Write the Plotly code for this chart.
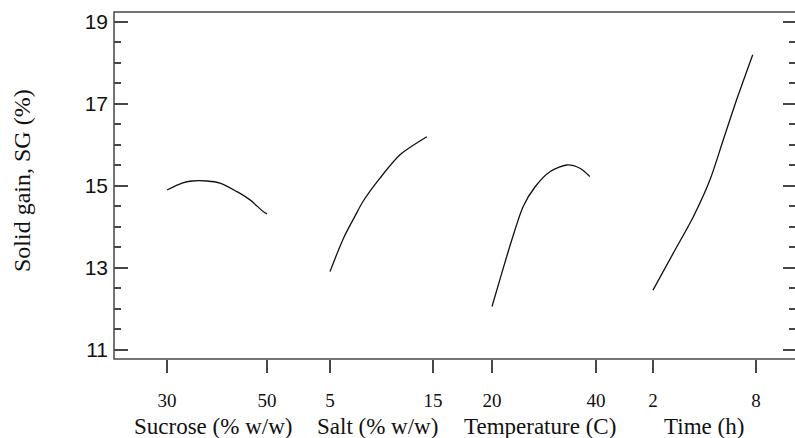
import plotly.graph_objects as go

# ---- data ----
sucrose_x = [30, 33, 35, 38, 40.6, 44, 46.6, 49.3, 50]
sucrose_y = [14.90, 15.07, 15.12, 15.12, 15.07, 14.86, 14.66, 14.37, 14.32]

salt_x = [5, 6.3, 7.4, 8.2, 9.85, 11.8, 14.4]
salt_y = [12.91, 13.72, 14.25, 14.62, 15.19, 15.76, 16.20]

temp_x = [20, 21.5, 23.8, 26.0, 28.3, 31.2, 34.4, 36.9, 38.8]
temp_y = [12.06, 12.71, 13.68, 14.50, 14.98, 15.35, 15.51, 15.43, 15.23]

time_x = [2, 3.18, 4.35, 5.32, 6.09, 6.87, 7.81]
time_y = [12.46, 13.36, 14.25, 15.15, 16.12, 17.10, 18.20]

sucrose_ticks = [30, 50]
salt_ticks = [5, 15]
temp_ticks = [20, 40]
time_ticks = [2, 8]
y_ticks = [11, 13, 15, 17, 19]

titles = ["Sucrose (% w/w)", "Salt (% w/w)", "Temperature (C)", "Time (h)"]
y_title = "Solid gain, SG (%)"

# ---- layout geometry (pixels) ----
W, H = 795, 438
PL, PR, PT, PB = 114, 795, 12, 359
pw = PR - PL
anchors = [((30, 167), (50, 267)), ((5, 330), (15, 433)),
           ((20, 492), (40, 596)), ((2, 653), (8, 756))]
splits = [114, 298, 462, 625, 795]
title_centers = [213, 377, 540, 704]

serif = "Liberation Serif, Times New Roman, serif"
sans = "Liberation Sans, Arial, sans-serif"
axcol = "#474747"
txt = "#111111"

fig = go.Figure()
series = [(sucrose_x, sucrose_y), (salt_x, salt_y), (temp_x, temp_y), (time_x, time_y)]
tickvals = [sucrose_ticks, salt_ticks, temp_ticks, time_ticks]
for i, (xs, ys) in enumerate(series):
    xa = "x" if i == 0 else f"x{i+1}"
    fig.add_trace(go.Scatter(x=xs, y=ys, mode="lines", xaxis=xa, yaxis="y",
                             line=dict(color="#111111", width=1.3, shape="spline",
                                       smoothing=0.8),
                             showlegend=False, hoverinfo="skip"))

fig.add_trace(go.Scatter(x=[None], y=[None], xaxis="x4", yaxis="y2",
                         showlegend=False, hoverinfo="skip"))

yr = [10.78, 19.24]
layout = dict(
    width=W, height=H,
    margin=dict(l=PL, r=W - PR, t=PT, b=H - PB, pad=0),
    paper_bgcolor="white", plot_bgcolor="white",
    yaxis=dict(range=yr, tickvals=y_ticks, ticks="inside", ticklen=14,
               tickwidth=1.5, tickcolor=axcol, showgrid=False, zeroline=False,
               showline=False, anchor="x",
               tickfont=dict(family=sans, size=21, color=txt),
               ticklabelstandoff=5,
               minor=dict(dtick=0.5, tick0=11, ticks="inside", ticklen=7,
                          tickwidth=1.5, tickcolor=axcol, showgrid=False)),
    yaxis2=dict(range=yr, overlaying="y", side="right", anchor="free", position=1,
                tickvals=y_ticks, ticks="inside", ticklen=12, tickwidth=1.5,
                tickcolor=axcol, showticklabels=False, showgrid=False,
                zeroline=False, showline=False,
                minor=dict(dtick=0.5, tick0=11, ticks="inside", ticklen=6,
                           tickwidth=1.5, tickcolor=axcol, showgrid=False)),
)
for i in range(4):
    (v1, p1), (v2, p2) = anchors[i]
    slope = (p2 - p1) / (v2 - v1)
    d0, d1 = splits[i], splits[i + 1]
    r0 = v1 + (d0 - p1) / slope
    r1 = v1 + (d1 - p1) / slope
    key = "xaxis" if i == 0 else f"xaxis{i+1}"
    layout[key] = dict(domain=[(d0 - PL) / pw, (d1 - PL) / pw], range=[r0, r1],
                       anchor="y", tickvals=tickvals[i], ticks="outside",
                       ticklen=13, tickwidth=1.5, tickcolor=axcol,
                       showgrid=False, zeroline=False, showline=False,
                       tickfont=dict(family=serif, size=19, color=txt),
                       ticklabelstandoff=11)
fig.update_layout(**layout)

fig.add_shape(type="rect", xref="paper", yref="paper", x0=0, x1=(PR + 3 - PL) / pw,
              y0=0, y1=1, line=dict(color=axcol, width=1.5), layer="above")

ph = PB - PT
for t, cx in zip(titles, title_centers):
    fig.add_annotation(text=t, xref="paper", yref="paper", x=(cx - PL) / pw,
                       y=(PB - 426) / ph, xanchor="center", yanchor="middle",
                       showarrow=False, font=dict(family=serif, size=23, color=txt))
fig.add_annotation(text=y_title, xref="paper", yref="paper", x=(22 - PL) / pw,
                   y=(PB - 181) / ph, xanchor="center", yanchor="middle",
                   textangle=-90, showarrow=False,
                   font=dict(family=serif, size=24, color=txt))

fig.write_html("out.html")
